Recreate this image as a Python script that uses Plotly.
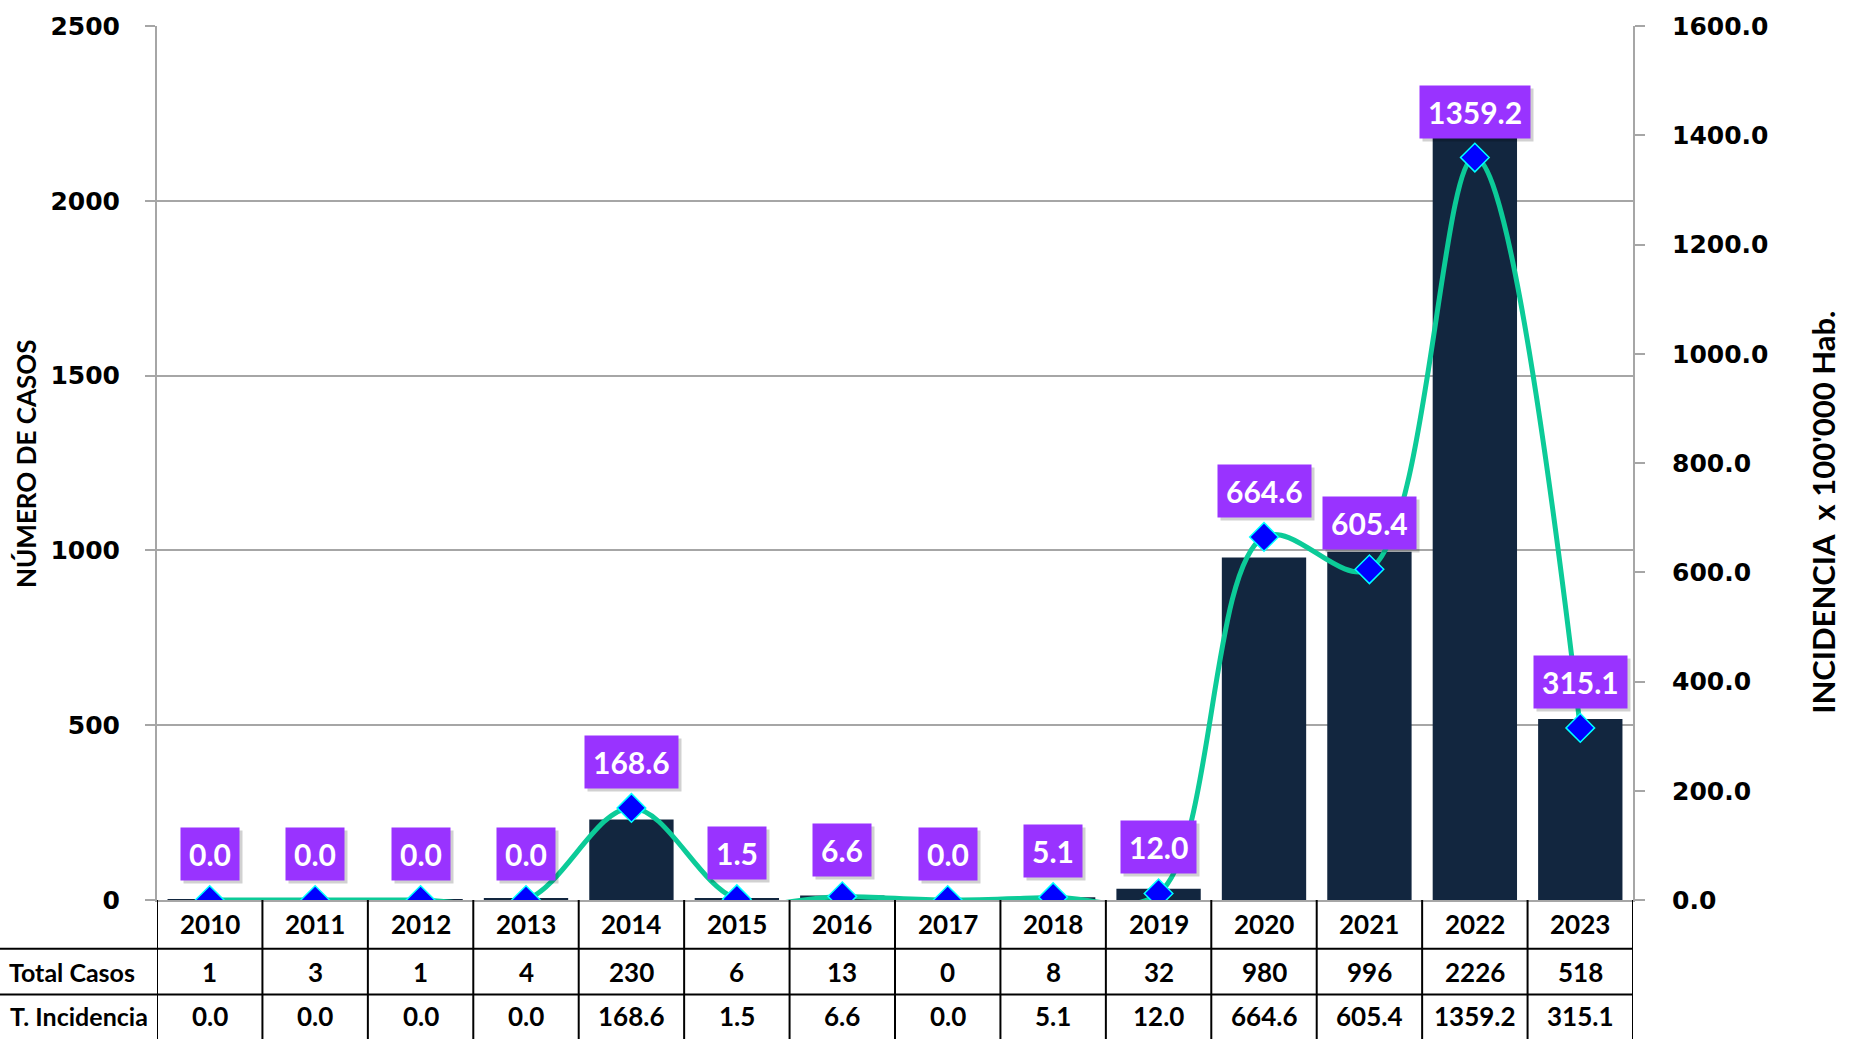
import plotly.graph_objects as go

years = ["2010", "2011", "2012", "2013", "2014", "2015", "2016",
         "2017", "2018", "2019", "2020", "2021", "2022", "2023"]
total_casos = [1, 3, 1, 4, 230, 6, 13, 0, 8, 32, 980, 996, 2226, 518]
incidencia = [0.0, 0.0, 0.0, 0.0, 168.6, 1.5, 6.6, 0.0, 5.1, 12.0,
              664.6, 605.4, 1359.2, 315.1]
row_labels = ["Total Casos", "T. Incidencia"]

W, H = 1855, 1039
PL, PR, PT, PB = 157, 1633, 22, 900   # plot area in pixels


def px(p):
    return (p - PL) / (PR - PL)


def py(p):
    return (PB - p) / (PB - PT)


TXT = "Lato"
NUM = "DejaVu Sans"
GRID = "#A6A6A6"

xs = list(range(len(years)))

fig = go.Figure()

fig.add_trace(go.Bar(
    x=xs, y=total_casos, marker_color="#12263F", marker_line_width=0,
    yaxis="y", name="Total Casos", hovertext=years))

fig.add_trace(go.Scatter(
    x=xs, y=incidencia, yaxis="y2", mode="lines+markers",
    line=dict(color="#0CCB98", width=5, shape="spline", smoothing=1.0),
    marker=dict(symbol="diamond", size=22, color="#0000FF",
                line=dict(color="#00FFFF", width=1.5)),
    name="T. Incidencia", hovertext=years))

annotations = []
# data labels (shadow + box)
for x, v in zip(xs, incidencia):
    lab = f"{v:.1f}"
    annotations.append(dict(
        x=x, y=v, xref="x", yref="y2", text=lab, showarrow=False,
        yshift=43, xshift=3, yanchor="middle",
        font=dict(family=TXT, size=30, color="rgba(0,0,0,0)", weight="bold"),
        bgcolor="rgba(0,0,0,0.18)", borderpad=8))
    annotations.append(dict(
        x=x, y=v, xref="x", yref="y2", text=lab, showarrow=False,
        yshift=46, yanchor="middle",
        font=dict(family=TXT, size=30, color="white", weight="bold"),
        bgcolor="#9933FF", borderpad=8))

# table text
row_y = [924, 972, 1017]
for x, yr, c, v in zip(xs, years, total_casos, incidencia):
    for ry, t in zip(row_y, [yr, str(c), f"{v:.1f}"]):
        annotations.append(dict(
            x=x, y=py(ry), xref="x", yref="paper", text=t, showarrow=False,
            yanchor="middle", xanchor="center",
            font=dict(family=TXT, size=26, color="black", weight="bold")))
for ry, rx, t in zip(row_y[1:], [137, 150], row_labels):
    annotations.append(dict(
        x=px(rx), y=py(ry), xref="paper", yref="paper", text=t, showarrow=False,
        yanchor="middle", xanchor="right",
        font=dict(family=TXT, size=25, color="black", weight="bold")))

# axis titles
annotations.append(dict(
    x=px(26), y=py(462), xref="paper", yref="paper", text="NÚMERO DE CASOS",
    showarrow=False, textangle=-90, xanchor="center", yanchor="middle",
    font=dict(family=TXT, size=26, color="black", weight="bold")))
annotations.append(dict(
    x=px(1823), y=py(511), xref="paper", yref="paper",
    text="INCIDENCIA  x 100'000 Hab.",
    showarrow=False, textangle=-90, xanchor="center", yanchor="middle",
    font=dict(family=TXT, size=31, color="black", weight="bold")))

# table grid lines
shapes = []
for i in range(len(years) + 1):
    shapes.append(dict(type="line", xref="x", yref="paper",
                       x0=i - 0.5, x1=i - 0.5, y0=py(PB), y1=py(1045),
                       line=dict(color="black", width=2)))
for ry in [949, 995]:
    shapes.append(dict(type="line", xref="paper", yref="paper",
                       x0=px(-5), x1=1, y0=py(ry), y1=py(ry),
                       line=dict(color="black", width=2)))

fig.update_layout(
    width=W, height=H,
    margin=dict(l=PL, r=W - PR, t=PT, b=H - PB),
    plot_bgcolor="white", paper_bgcolor="white",
    showlegend=False, bargap=0.2,
    annotations=annotations, shapes=shapes,
    xaxis=dict(range=[-0.5, len(years) - 0.5], showticklabels=False,
               showgrid=False, zeroline=False,
               showline=True, linecolor=GRID, linewidth=2, ticks=""),
    yaxis=dict(range=[0, 2500], dtick=500, showgrid=True, gridcolor=GRID,
               gridwidth=1.5, showline=True, linecolor=GRID, linewidth=2,
               ticks="outside", ticklen=10, tickcolor=GRID, tickwidth=1.5,
               ticklabelstandoff=20, zeroline=False,
               tickfont=dict(family=NUM, size=25, color="black", weight="bold")),
    yaxis2=dict(range=[0, 1600], dtick=200, overlaying="y", side="right",
                showgrid=False, showline=True, linecolor=GRID, linewidth=2,
                ticks="outside", ticklen=10, tickcolor=GRID, tickwidth=1.5,
                ticklabelstandoff=22, tickformat=".1f", zeroline=False,
                tickfont=dict(family=NUM, size=25, color="black", weight="bold")),
)

fig.write_html("out.html", config={"displayModeBar": False},
               post_script="document.body.style.margin='0';")
